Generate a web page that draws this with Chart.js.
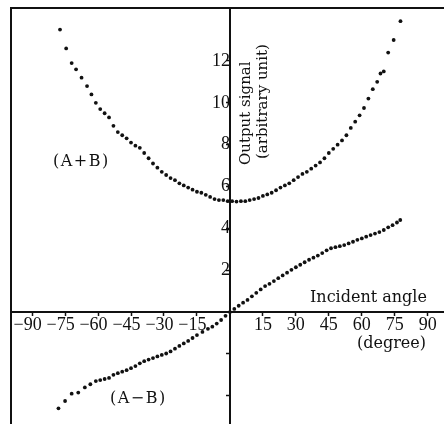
<!DOCTYPE html>
<html>
<head>
<meta charset="utf-8">
<script src="https://cdn.jsdelivr.net/npm/chart.js@4/dist/chart.umd.min.js"></script>
<style>
    html, body {
        margin: 0;
        padding: 0;
        background: #ffffff;
    }

    .page {
        position: relative;
        width: 444px;
        height: 424px;
        overflow: hidden;
        font-family: "DejaVu Serif", "Liberation Serif", serif;
        color: #111111;
    }

    /* canvas maior que a página: a área do gráfico começa na moldura */
    .page canvas {
        position: absolute;
        left: -9px;
        top: -12px;
    }

    /* moldura do gráfico */
    .frame {
        position: absolute;
        left: 10px;
        top: 7px;
        width: 440px;
        height: 430px;
        border-left: 2px solid #111111;
        border-top: 2px solid #111111;
        pointer-events: none;
    }

    .note {
        position: absolute;
        font-size: 16px;
        line-height: 1;
        white-space: nowrap;
    }

    .curve {
        font-size: 16px;
        letter-spacing: 1.5px;
    }

    .rotated {
        font-size: 15px;
        transform-origin: 0 0;
        transform: rotate(-90deg);
    }
</style>
</head>
<body>
<div class="page">
    <canvas id="graficoAngulo" width="473" height="456"></canvas>
    <div class="frame"></div>

    <div class="note curve" style="left:53px; top:153px;">(A+B)</div>
    <div class="note curve" style="left:110px; top:390px;">(A−B)</div>
    <div class="note" style="left:310px; top:289px;">Incident angle</div>
    <div class="note" style="left:357px; top:335px;">(degree)</div>
    <div class="note rotated" style="left:238px; top:165px;">Output signal</div>
    <div class="note rotated" style="left:255px; top:159px;">(arbitrary unit)</div>
</div>

<script>
// DADOS

// Curva (A+B): ângulo em graus
const anglesSum = [
    -77.3, -74.5, -72, -70, -67.5, -65, -63, -61, -59, -57,
    -55, -53, -51, -49, -47, -45, -43, -41, -39, -37,
    -35, -33, -31, -29, -27, -25, -23, -21, -19, -17,
    -15, -13, -11, -9, -7, -5, -3, -1, 1, 3,
    5, 7, 9, 11, 13, 15, 17, 19, 21, 23,
    25, 27, 29, 31, 33, 35, 37, 39, 41, 43,
    45, 47, 49, 51, 53, 55, 57, 59, 61, 63,
    65, 67, 68.5, 70, 72, 74.5, 77.6
];

// Curva (A+B): sinal de saída
const valuesSum = [
    13.5, 12.6, 11.9, 11.6, 11.2, 10.8, 10.4, 10.0, 9.7, 9.5,
    9.3, 8.9, 8.6, 8.45, 8.3, 8.1, 7.95, 7.85, 7.6, 7.35,
    7.1, 6.9, 6.7, 6.55, 6.4, 6.3, 6.15, 6.05, 5.95, 5.85,
    5.75, 5.7, 5.6, 5.5, 5.4, 5.35, 5.35, 5.3, 5.3, 5.28,
    5.3, 5.3, 5.35, 5.4, 5.45, 5.55, 5.62, 5.7, 5.82, 5.95,
    6.05, 6.15, 6.3, 6.45, 6.6, 6.7, 6.85, 7.0, 7.15, 7.35,
    7.6, 7.8, 8.0, 8.2, 8.45, 8.8, 9.1, 9.4, 9.75, 10.2,
    10.65, 11.0, 11.4, 11.5, 12.4, 13.0, 13.9
];

// Curva (A-B): ângulo em graus
const anglesDiff = [
    -78, -75, -72, -69, -66, -63.5, -61, -59, -57, -55,
    -53, -51, -49, -47, -45, -43, -41, -39, -37, -35,
    -33, -31, -29, -27, -25, -23, -21, -19, -17, -15,
    -12.5, -10, -8, -6, -4, -2, 0, 2, 4, 6,
    8, 10, 12, 14, 16, 18, 20, 22, 24, 26,
    28, 30, 32, 34, 36, 38, 40, 42, 44, 46,
    48, 50, 52, 54, 56, 58, 60, 62, 64, 66,
    68, 70, 72, 74, 76, 77.5
];

// Curva (A-B): sinal de saída
const valuesDiff = [
    -4.6, -4.25, -3.9, -3.85, -3.6, -3.45, -3.3, -3.25, -3.2, -3.15,
    -3.0, -2.92, -2.85, -2.78, -2.68, -2.58, -2.45, -2.35, -2.27, -2.2,
    -2.12, -2.05, -1.98, -1.88, -1.75, -1.62, -1.5, -1.38, -1.24, -1.1,
    -0.95, -0.8, -0.7, -0.55, -0.38, -0.18, 0, 0.15, 0.3, 0.45,
    0.58, 0.75, 0.92, 1.08, 1.24, 1.35, 1.48, 1.62, 1.75, 1.88,
    2.02, 2.14, 2.26, 2.38, 2.5, 2.6, 2.7, 2.82, 2.95, 3.05,
    3.1, 3.15, 3.2, 3.28, 3.36, 3.45, 3.52, 3.6, 3.68, 3.75,
    3.82, 3.92, 4.05, 4.15, 4.28, 4.4
];

// Marcas dos eixos
const xTickValues = [-90, -75, -60, -45, -30, -15, 15, 30, 45, 60, 75, 90];
const yTickValues = [-4, -2, 2, 4, 6, 8, 10, 12];
const yTickLabels = [2, 4, 6, 8, 10, 12];


// JUNTA ÂNGULOS E VALORES EM PONTOS
function montarPontos(angulos, valores) {

    return angulos.map((x, i) => ({ x: x, y: valores[i] }));
}


// FORMATA RÓTULO DO EIXO X
function rotuloAngulo(valor) {

    // Sinal de menos tipográfico; espaço no fim puxa o rótulo para a esquerda
    if (valor < 0) return "\u2212" + Math.abs(valor) + "\u2002";

    return String(valor);
}


// CRIA GRÁFICO
function criarGrafico() {

    const canvas = document.getElementById("graficoAngulo");

    if (!canvas || typeof Chart === "undefined")
        return;

    const fonteTicks = {
        family: "'Liberation Serif', 'DejaVu Serif', serif",
        size: 18
    };

    new Chart(canvas, {

        type: "scatter",

        data: {

            datasets: [

                // (A+B)
                {
                    label: "(A+B)",
                    data: montarPontos(anglesSum, valuesSum),
                    backgroundColor: "#111111",
                    borderWidth: 0,
                    pointRadius: 1.9,
                },

                // (A-B)
                {
                    label: "(A-B)",
                    data: montarPontos(anglesDiff, valuesDiff),
                    backgroundColor: "#111111",
                    borderWidth: 0,
                    pointRadius: 1.9,
                },
            ],
        },

        options: {

            responsive: false,

            animation: false,

            // Margem fixa maior que a dos rótulos: área do gráfico previsível
            layout: {
                padding: 20
            },

            plugins: {

                legend: {
                    display: false
                },

                tooltip: {
                    enabled: false
                },
            },

            scales: {

                // EIXO X (cruza em y = 0)
                x: {

                    type: "linear",

                    position: { y: 0 },

                    min: -99.6,

                    max: 97.4,

                    afterBuildTicks: (scale) => {
                        scale.ticks = xTickValues.map((v) => ({ value: v }));
                    },

                    border: {
                        color: "#111111",
                        width: 2
                    },

                    grid: {
                        drawOnChartArea: false,
                        drawTicks: true,
                        tickLength: 3,
                        tickColor: "#111111",
                        tickWidth: 1.5
                    },

                    ticks: {
                        color: "#111111",
                        font: fonteTicks,
                        padding: -1,
                        maxRotation: 0,
                        autoSkip: false,
                        callback: (value) => rotuloAngulo(value),
                    },
                },

                // EIXO Y (cruza em x = 0)
                y: {

                    type: "linear",

                    position: { x: 0 },

                    min: -5.35,

                    max: 14.53,

                    afterBuildTicks: (scale) => {
                        scale.ticks = yTickValues.map((v) => ({ value: v }));
                    },

                    border: {
                        color: "#111111",
                        width: 2
                    },

                    grid: {
                        drawOnChartArea: false,
                        drawTicks: true,
                        tickLength: 3,
                        tickColor: "#111111",
                        tickWidth: 1.5
                    },

                    ticks: {
                        color: "#111111",
                        font: fonteTicks,
                        padding: 3,
                        autoSkip: false,
                        callback: (value) =>
                            yTickLabels.includes(value) ? String(value) : "",
                    },
                },
            },
        },
    });
}


document.addEventListener("DOMContentLoaded", function () {

    criarGrafico();
});
</script>
</body>
</html>
